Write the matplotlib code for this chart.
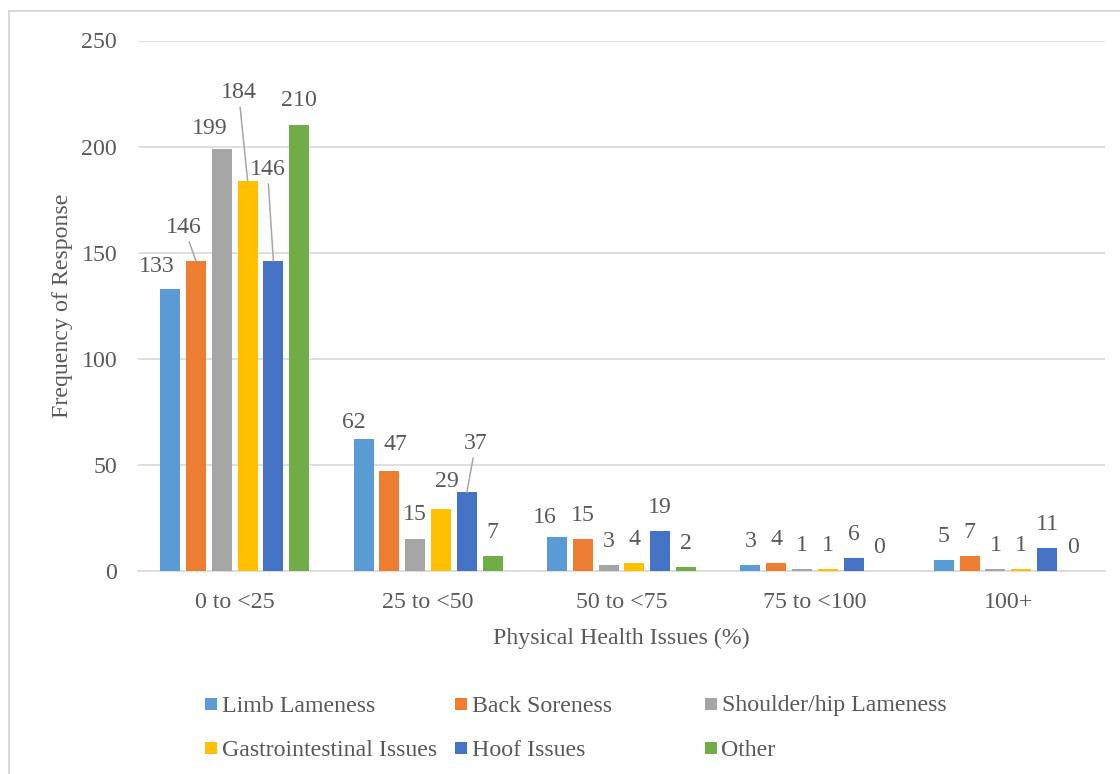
import numpy as np
import matplotlib.pyplot as plt
from matplotlib.patches import Rectangle
from matplotlib.lines import Line2D

plt.rcParams['font.family'] = ['Liberation Serif', 'DejaVu Serif']

categories = ['0 to <25', '25 to <50', '50 to <75', '75 to <100', '100+']
series_names = ['Limb Lameness', 'Back Soreness', 'Shoulder/hip Lameness',
                'Gastrointestinal Issues', 'Hoof Issues', 'Other']
limb = [133, 62, 16, 3, 5]
back = [146, 47, 15, 4, 7]
shoulder = [199, 15, 3, 1, 1]
gastro = [184, 29, 4, 1, 1]
hoof = [146, 37, 19, 6, 11]
other = [210, 7, 2, 0, 0]
series = [limb, back, shoulder, gastro, hoof, other]
colors = ['#5B9BD5', '#ED7D31', '#A5A5A5', '#FFC000', '#4472C4', '#70AD47']

txt_color = '#595959'
grid_color = '#D9D9D9'
fs = 17.2

# label tweaks (pixels): (group, series) -> (dx, dy, leader line)
label_pos = {
    (0, 0): (-13, 22, False), (0, 1): (-12, 34, True), (0, 2): (-12, 20, False),
    (0, 3): (-9, 88, True), (0, 4): (-6, 92, True), (0, 5): (0, 25, False),
    (1, 0): (-10, 17, False), (1, 1): (6, 27, False), (1, 2): (0, 25, False),
    (1, 3): (6, 28, False), (1, 4): (9, 49, True), (1, 5): (0, 24, False),
    (2, 0): (-12, 20, False),
}

fig = plt.figure(figsize=(11.2, 7.74), dpi=100)
# outer chart frame (left and top edges visible)
fig.add_artist(Line2D([8.5 / 1120, 8.5 / 1120], [0, (774 - 11) / 774], transform=fig.transFigure,
                      color=grid_color, linewidth=1.5))
fig.add_artist(Line2D([8.5 / 1120, 1], [(774 - 11) / 774, (774 - 11) / 774], transform=fig.transFigure,
                      color=grid_color, linewidth=1.5))
ax = fig.add_axes([138 / 1120, (774 - 571) / 774, 967 / 1120, 530.5 / 774])

index = np.arange(len(categories))
step = 0.1334
bar_width = 0.1034

for k, vals in enumerate(series):
    xs = index + (k - 2.5) * step
    bars = ax.bar(xs, vals, bar_width, color=colors[k], zorder=3)
    for g, rect in enumerate(bars):
        dx, dy, leader = label_pos.get((g, k), (0, 23.5, False))
        x = rect.get_x() + rect.get_width() / 2
        h = rect.get_height()
        props = None
        if leader:
            props = dict(arrowstyle='-', color='#A6A6A6', lw=1.1, shrinkA=1, shrinkB=0)
        ax.annotate(str(vals[g]), xy=(x, h), xytext=(dx, dy), textcoords='offset pixels',
                    ha='center', va='center', fontsize=fs, color=txt_color,
                    arrowprops=props, zorder=4)

ax.set_xlim(-0.5, len(categories) - 0.5)
ax.set_ylim(0, 250)
ax.set_yticks(np.arange(0, 251, 50))
ax.set_xticks(index)
ax.set_xticklabels(categories)
ax.tick_params(axis='both', length=0, labelsize=fs, labelcolor=txt_color)
ax.tick_params(axis='y', pad=15)
ax.tick_params(axis='x', pad=15)
ax.grid(axis='y', color=grid_color, linewidth=1.2, zorder=0)
ax.set_axisbelow(True)
for s in ['top', 'right', 'left']:
    ax.spines[s].set_visible(False)
ax.spines['bottom'].set_color(grid_color)
ax.spines['bottom'].set_linewidth(1.2)
ax.spines['bottom'].set_zorder(2)

ax.set_xlabel('Physical Health Issues (%)', fontsize=fs, color=txt_color, labelpad=11)
ax.set_ylabel('Frequency of Response', fontsize=fs, color=txt_color, labelpad=6)

# legend laid out like excel: 3 columns, 2 rows
col_x = [205.5, 455, 705]
row_y = [704, 748]
for k, name in enumerate(series_names):
    cx = col_x[k % 3]
    cy = row_y[k // 3]
    fig.patches.append(Rectangle((cx / 1120, (774 - cy - 5.8) / 774), 11.5 / 1120, 11.6 / 774,
                                 transform=fig.transFigure, facecolor=colors[k], edgecolor='none'))
    fig.text((cx + 16.5) / 1120, (774 - cy - 2) / 774, name, ha='left', va='center',
             fontsize=fs, color=txt_color)

plt.savefig('out.png', dpi=100)
